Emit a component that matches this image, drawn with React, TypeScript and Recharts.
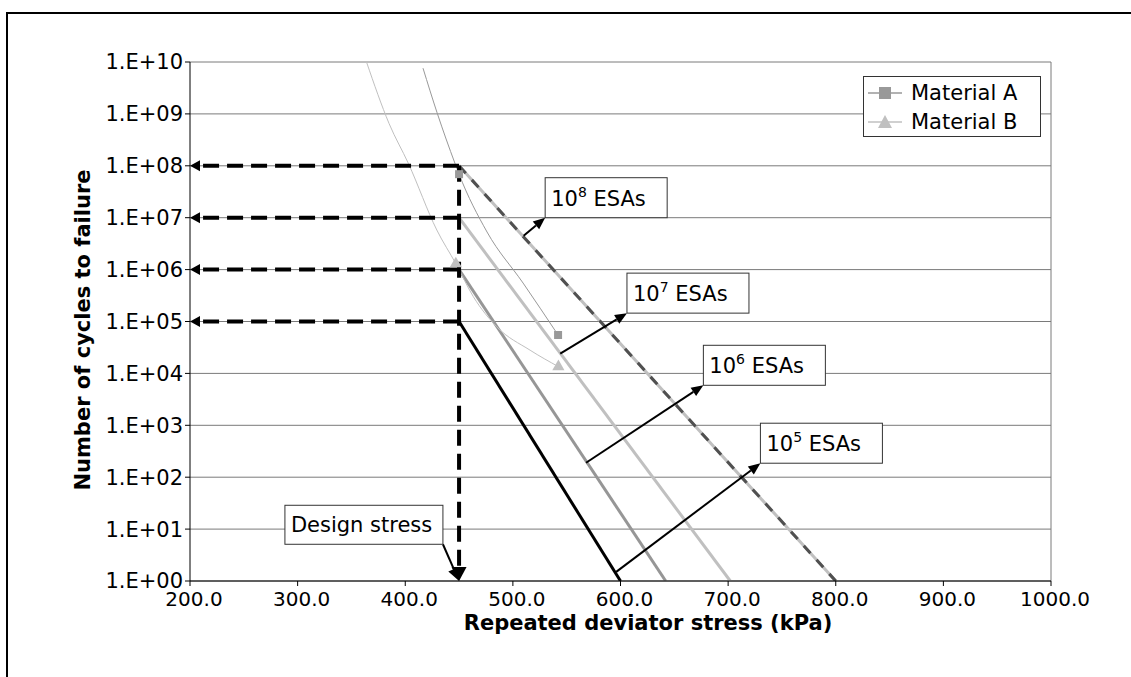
import React from "react";
import {
  CartesianGrid,
  ComposedChart,
  Line,
  ReferenceDot,
  ReferenceLine,
  Scatter,
  XAxis,
  YAxis,
} from "recharts";

const FONT = "'DejaVu Sans', Verdana, sans-serif";

const stressTicks = [200, 300, 400, 500, 600, 700, 800, 900, 1000];
const cycleTicks = [1, 1e1, 1e2, 1e3, 1e4, 1e5, 1e6, 1e7, 1e8, 1e9, 1e10];

// fitted curves for the two materials (kPa, cycles)
const materialACurve = [
  { stress: 416.5, cycles: 7.6e9 },
  { stress: 429.6, cycles: 1.05e9 },
  { stress: 446.3, cycles: 1.1e8 },
  { stress: 450, cycles: 6.9e7 },
  { stress: 476, cycles: 5.3e6 },
  { stress: 509.5, cycles: 5.5e5 },
  { stress: 542, cycles: 5.5e4 },
];
const materialBCurve = [
  { stress: 364, cycles: 1e10 },
  { stress: 385, cycles: 6.5e8 },
  { stress: 403, cycles: 1.1e8 },
  { stress: 429.3, cycles: 5.8e6 },
  { stress: 447, cycles: 1.3e6 },
  { stress: 463.3, cycles: 3.0e5 },
  { stress: 485.1, cycles: 7.9e4 },
  { stress: 516, cycles: 2.8e4 },
  { stress: 542.3, cycles: 1.35e4 },
];
// measured points
const materialAPoints = [
  { stress: 450, cycles: 6.9e7 },
  { stress: 542, cycles: 5.5e4 },
];
const materialBPoints = [
  { stress: 447, cycles: 1.3e6 },
  { stress: 542.3, cycles: 1.35e4 },
];

// design lines per traffic level
const esa5 = [
  { stress: 450, cycles: 1e5 },
  { stress: 600, cycles: 1 },
];
const esa6 = [
  { stress: 450, cycles: 1e6 },
  { stress: 642, cycles: 1 },
];
const esa7 = [
  { stress: 450, cycles: 1e7 },
  { stress: 702, cycles: 1 },
];
const esa8 = [
  { stress: 450, cycles: 1e8 },
  { stress: 800, cycles: 1 },
];

const designStress = 450;
const designLevels = [1e5, 1e6, 1e7, 1e8];

// callouts: arrow from a point on the line to the label box corner
const esaLabels = [
  { exp: "8", from: { stress: 510, cycles: 4.5e6 }, to: { stress: 530, cycles: 1e7 } },
  { exp: "7", from: { stress: 544, cycles: 2.4e4 }, to: { stress: 606, cycles: 1.45e5 } },
  { exp: "6", from: { stress: 568, cycles: 190 }, to: { stress: 677, cycles: 5.9e3 } },
  { exp: "5", from: { stress: 596, cycles: 1.5 }, to: { stress: 730, cycles: 186 } },
];
const designLabel = {
  text: "Design stress",
  from: { stress: 435, cycles: 5.1 },
  to: { stress: 450, cycles: 1 },
};

const fmtCycles = (v: number) =>
  `1.E+${String(Math.round(Math.log10(v))).padStart(2, "0")}`;

function Arrow(props: any) {
  const { x1, y1, x2, y2, color, width, dash, head, headW } = props;
  const ang = Math.atan2(y2 - y1, x2 - x1);
  const bx = x2 - head * Math.cos(ang);
  const by = y2 - head * Math.sin(ang);
  const nx = -Math.sin(ang) * (headW / 2);
  const ny = Math.cos(ang) * (headW / 2);
  return (
    <g>
      <line
        x1={x1}
        y1={y1}
        x2={bx}
        y2={by}
        stroke={color}
        strokeWidth={width}
        strokeDasharray={dash}
      />
      <polygon
        points={`${x2},${y2} ${bx + nx},${by + ny} ${bx - nx},${by - ny}`}
        fill={color}
      />
    </g>
  );
}

const arrowShape =
  (color: string, width: number, dash: string | undefined, head: number, headW: number) =>
  (p: any) => (
    <Arrow {...p} color={color} width={width} dash={dash} head={head} headW={headW} />
  );

const esaBox = (exp: string) => (p: any) => {
  const { cx, cy } = p;
  const w = 122;
  const h = 40;
  return (
    <g>
      <rect x={cx} y={cy - h} width={w} height={h} fill="#fff" stroke="#333" />
      <text x={cx + 6} y={cy - 12} fontSize={21} fontFamily={FONT} fill="#000">
        <tspan>10</tspan>
        <tspan dy={-9} fontSize={14}>
          {exp}
        </tspan>
        <tspan dy={9} fontSize={21}>
          {" ESAs"}
        </tspan>
      </text>
    </g>
  );
};

const designBox = (text: string) => (p: any) => {
  const { cx, cy } = p;
  const w = 158;
  const h = 39;
  return (
    <g>
      <rect x={cx - w} y={cy - h} width={w} height={h} fill="#fff" stroke="#333" />
      <text x={cx - w + 6} y={cy - 12} fontSize={21} fontFamily={FONT} fill="#000">
        {text}
      </text>
    </g>
  );
};

function LegendRow({ label, color, marker }: { label: string; color: string; marker: "square" | "triangle" }) {
  return (
    <div style={{ display: "flex", alignItems: "center", height: 29 }}>
      <svg width={44} height={20}>
        <line x1={4} y1={10} x2={38} y2={10} stroke={color} strokeWidth={1.5} />
        {marker === "square" ? (
          <rect x={15} y={4} width={12} height={12} fill={color} />
        ) : (
          <polygon points="21,3 28,16 14,16" fill={color} />
        )}
      </svg>
      <span style={{ fontSize: 21, marginLeft: 3 }}>{label}</span>
    </div>
  );
}

export default function App() {
  return (
    <div
      style={{
        position: "absolute",
        left: 0,
        top: 0,
        width: 1131,
        height: 677,
        overflow: "hidden",
        background: "#fff",
        fontFamily: FONT,
      }}
    >
      <div
        style={{
          position: "absolute",
          left: 6,
          top: 12,
          width: 1160,
          height: 700,
          border: "2px solid #000",
        }}
      />
      <div style={{ position: "absolute", left: 0, top: 0 }}>
        <ComposedChart
          width={1131}
          height={677}
          margin={{ top: 62, right: 80, bottom: 56, left: 0 }}
        >
          <CartesianGrid vertical={false} stroke="#7a7a7a" />
          <XAxis
            type="number"
            dataKey="stress"
            domain={[200, 1000]}
            ticks={stressTicks}
            allowDataOverflow
            tickFormatter={(v: number) => v.toFixed(1)}
            tick={{ fill: "#000", fontSize: 20, fontFamily: FONT, dx: 4 }}
            tickSize={5}
            tickMargin={6}
            stroke="#000"
            height={40}
          />
          <YAxis
            type="number"
            dataKey="cycles"
            scale="log"
            domain={[1, 1e10]}
            ticks={cycleTicks}
            allowDataOverflow
            tickFormatter={fmtCycles}
            tick={{ fill: "#000", fontSize: 21, fontFamily: FONT }}
            tickSize={5}
            tickMargin={2}
            stroke="#000"
            width={190}
          />
          <ReferenceLine x={1000} stroke="#7a7a7a" />

          <Line data={esa8} dataKey="cycles" stroke="#c0c0c0" strokeWidth={3} dot={false} isAnimationActive={false} />
          <Line data={esa8} dataKey="cycles" stroke="#505050" strokeWidth={3} strokeDasharray="10 9" dot={false} isAnimationActive={false} />
          <Line data={esa7} dataKey="cycles" stroke="#c0c0c0" strokeWidth={3} dot={false} isAnimationActive={false} />
          <Line data={esa6} dataKey="cycles" stroke="#969696" strokeWidth={3} dot={false} isAnimationActive={false} />
          <Line data={esa5} dataKey="cycles" stroke="#000" strokeWidth={3} dot={false} isAnimationActive={false} />

          <Line type="monotone" data={materialACurve} dataKey="cycles" stroke="#999" strokeWidth={1} dot={false} isAnimationActive={false} />
          <Line type="monotone" data={materialBCurve} dataKey="cycles" stroke="#c0c0c0" strokeWidth={1} dot={false} isAnimationActive={false} />
          <Scatter data={materialAPoints} dataKey="cycles" fill="#999" shape="square" isAnimationActive={false} />
          <Scatter data={materialBPoints} dataKey="cycles" fill="#c0c0c0" shape="triangle" isAnimationActive={false} />

          {designLevels.map((lvl) => (
            <ReferenceLine
              key={lvl}
              ifOverflow="visible"
              segment={[
                { x: designStress, y: lvl },
                { x: 200, y: lvl },
              ]}
              shape={arrowShape("#000", 4, "16 8", 10, 11)}
            />
          ))}
          <ReferenceLine
            ifOverflow="visible"
            segment={[
              { x: designStress, y: designLevels[designLevels.length - 1] },
              { x: designStress, y: 1 },
            ]}
            shape={arrowShape("#000", 4, "16 8", 14, 15)}
          />

          {esaLabels.map((l) => (
            <ReferenceLine
              key={"a" + l.exp}
              ifOverflow="visible"
              segment={[
                { x: l.from.stress, y: l.from.cycles },
                { x: l.to.stress, y: l.to.cycles },
              ]}
              shape={arrowShape("#000", 2, undefined, 12, 10)}
            />
          ))}
          {esaLabels.map((l) => (
            <ReferenceDot
              key={"b" + l.exp}
              ifOverflow="visible"
              x={l.to.stress}
              y={l.to.cycles}
              shape={esaBox(l.exp)}
            />
          ))}
          <ReferenceLine
            ifOverflow="visible"
            segment={[
              { x: designLabel.from.stress, y: designLabel.from.cycles },
              { x: designLabel.to.stress, y: designLabel.to.cycles },
            ]}
            shape={arrowShape("#000", 2, undefined, 13, 12)}
          />
          <ReferenceDot
            ifOverflow="visible"
            x={designLabel.from.stress}
            y={designLabel.from.cycles}
            shape={designBox(designLabel.text)}
          />
        </ComposedChart>
      </div>

      <div
        style={{
          position: "absolute",
          left: 863,
          top: 76,
          width: 176,
          height: 58,
          background: "#fff",
          border: "1px solid #333",
          paddingTop: 1,
        }}
      >
        <LegendRow label="Material A" color="#999" marker="square" />
        <LegendRow label="Material B" color="#c0c0c0" marker="triangle" />
      </div>

      <div
        style={{
          position: "absolute",
          left: 348,
          top: 611,
          width: 600,
          textAlign: "center",
          fontSize: 21,
          fontWeight: "bold",
          lineHeight: "24px",
        }}
      >
        Repeated deviator stress (kPa)
      </div>
      <div
        style={{
          position: "absolute",
          left: 83 - 250,
          top: 330 - 12,
          width: 500,
          textAlign: "center",
          fontSize: 21,
          fontWeight: "bold",
          lineHeight: "24px",
          transform: "rotate(-90deg)",
        }}
      >
        Number of cycles to failure
      </div>
    </div>
  );
}
